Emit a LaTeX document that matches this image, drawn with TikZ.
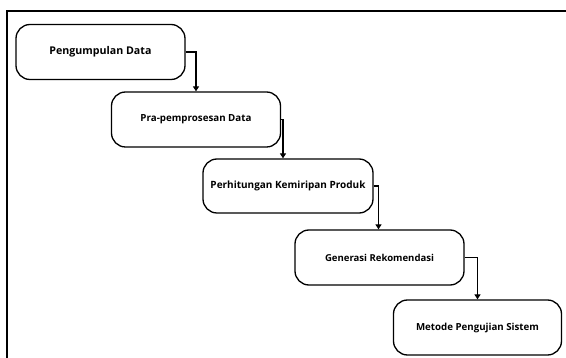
\documentclass[tikz,border=0pt]{standalone}
\usepackage{fontspec}
\setmainfont{Open Sans}
\usetikzlibrary{arrows.meta}
\newcommand\fitw[2]{\resizebox{#1}{!}{#2}}
\begin{document}
\begin{tikzpicture}[x=1pt,y=-1pt,
  stepbox/.style={draw=black, line width=1.3pt, rounded corners=14pt, fill=white,
    minimum width=169pt, minimum height=55pt, inner sep=2pt,
    font=\bfseries\fontsize{10}{12}\selectfont},
  flow/.style={line width=1.4pt, -{Triangle[width=6pt,length=5pt]}},
  frame/.style={line width=1.8pt}]
\useasboundingbox (0,0) rectangle (566,358);
\draw[frame] (566,11) -- (7,11) -- (7,358);
\node[stepbox] (s1) at (100.5,52) {\fitw{102pt}{Pengumpulan Data}};
\node[stepbox] (s2) at (196,119.5) {\fitw{111pt}{Pra-pemprosesan Data}};
\node[stepbox, minimum width=170pt, minimum height=54pt] (s3) at (288,186) {\fitw{155pt}{Perhitungan Kemiripan Produk}};
\node[stepbox] (s4) at (379.5,257.5) {\fitw{109pt}{Generasi Rekomendasi}};
\node[stepbox, minimum width=168pt] (s5) at (477.5,327.5) {\fitw{123pt}{Metode Pengujian Sistem}};
\draw[flow] (s1.east) -| (s2.north);
\draw[flow] (s2.east) -| ([xshift=-5pt]s3.north);
\draw[flow] (s3.east) -| ([xshift=-1pt]s4.north);
\draw[flow] (s4.east) -| (s5.north);
\end{tikzpicture}
\end{document}
